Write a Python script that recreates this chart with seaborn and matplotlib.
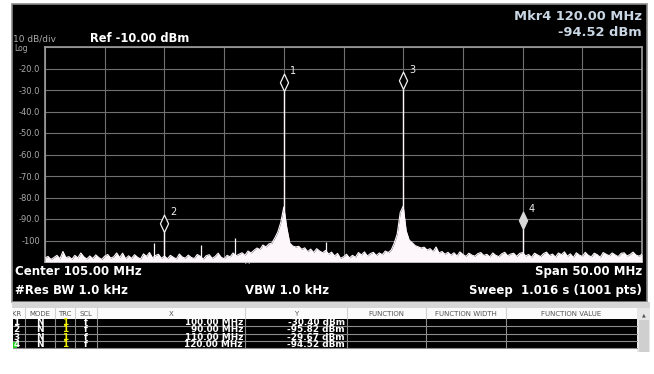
import numpy as np
import pandas as pd
import matplotlib
matplotlib.use("Agg")
import matplotlib.pyplot as plt
from matplotlib.path import Path
from matplotlib.patches import Rectangle
from matplotlib.font_manager import FontProperties
import seaborn as sns

# ---- sweep settings -------------------------------------------------------
center_mhz = 105.0
span_mhz = 50.0
ref_dbm = -10.0
db_per_div = 10.0
freq_start_mhz = 80.0
freq_step_mhz = 0.25

# trace level (dBm) every 0.25 MHz from 80 to 130 MHz
trace_dbm = [
    -108.2, -107.4, -108.8, -107.9, -106.9, -108.5, -105.1, -108.0,
    -107.5, -108.7, -106.9, -108.1, -105.8, -107.6, -108.6, -107.2,
    -108.4, -106.7, -107.9, -108.8, -107.3, -106.5, -108.2, -107.6,
    -105.8, -107.9, -105.9, -108.5, -107.1, -108.3, -106.6, -107.8,
    -108.6, -106.2, -107.4, -105.6, -108.1, -107.0, -106.4, -108.3,
    -107.2, -108.5, -106.9, -107.8, -108.6, -106.3, -107.7, -108.2,
    -106.8, -107.9, -108.4, -106.5, -107.3, -108.7, -107.1, -106.6,
    -108.3, -107.4, -105.9, -107.8, -108.5, -106.9, -107.6, -105.8,
    -107.1, -106.4, -105.7, -106.9, -104.9, -105.8, -104.6, -103.5,
    -104.2, -102.1, -103.0, -101.6, -101.2, -98.8, -96.0, -91.5,
    -84.4, -94.0, -101.2, -102.6, -103.0, -102.7, -104.1, -103.4,
    -105.2, -104.0, -105.6, -103.8, -104.9, -105.7, -104.6, -106.3,
    -105.4, -107.2, -106.0, -108.3, -107.6, -106.4, -108.1, -106.9,
    -107.8, -105.6, -106.7, -105.3, -107.2, -106.1, -105.5, -107.0,
    -105.8, -106.6, -104.9, -105.6, -104.4, -101.2, -96.9, -87.0,
    -84.0, -95.5, -99.8, -101.0, -102.4, -102.9, -103.5, -103.1,
    -104.4, -103.8, -105.2, -103.0, -105.8, -105.1, -106.4, -105.5,
    -106.8, -105.7, -107.2, -105.3, -106.5, -107.4, -105.9, -106.8,
    -107.3, -106.1, -105.6, -107.0, -106.4, -107.6, -105.8, -106.9,
    -107.5, -106.2, -105.5, -107.1, -106.3, -105.9, -107.4, -106.0,
    -105.6, -107.2, -106.5, -107.8, -105.9, -106.7, -107.5, -106.1,
    -105.4, -107.0, -106.3, -107.7, -105.8, -106.6, -105.3, -107.3,
    -106.2, -107.9, -105.7, -106.8, -107.4, -105.5, -106.9, -107.6,
    -105.9, -106.6, -107.8, -105.6, -106.4, -107.1, -105.8, -106.7,
    -107.5, -106.0, -105.7, -107.2, -106.5, -105.4, -106.8, -107.3,
    -106.4,
]

# narrow spurs riding on the noise floor
spur_mhz = [89.13, 93.06, 95.90, 103.52]
spur_dbm = [-101.0, -102.0, -98.8, -100.7]

# markers
marker_ids = [1, 2, 3, 4]
marker_mhz = [100.00, 90.00, 110.00, 120.00]
marker_dbm = [-30.40, -95.82, -29.67, -94.52]
marker_mode = ["N", "N", "N", "N"]
marker_trc = ["1", "1", "1", "1"]
marker_scl = ["f", "f", "f", "f"]
active_marker = 4

y_tick_values = [-20, -30, -40, -50, -60, -70, -80, -90, -100]
y_tick_labels = ["-20.0", "-30.0", "-40.0", "-50.0", "-60.0",
                 "-70.0", "-80.0", "-90.0", "-100"]

table_headers = ["MODE", "TRC", "SCL", "X", "Y",
                 "FUNCTION", "FUNCTION WIDTH", "FUNCTION VALUE"]

# ---- derived data -----------------------------------------------------------
freq_mhz = freq_start_mhz + freq_step_mhz * np.arange(len(trace_dbm))
f_lo = center_mhz - span_mhz / 2
f_hi = center_mhz + span_mhz / 2
y_bottom = ref_dbm - 10 * db_per_div
trace = pd.DataFrame({"freq": freq_mhz, "level": trace_dbm})

# ---- styling ------------------------------------------------------------------
sns.set_theme(style="dark", rc={
    "axes.facecolor": "black",
    "figure.facecolor": "white",
    "grid.color": "#6f6f6f",
    "grid.linewidth": 0.8,
})
plt.rcParams["font.family"] = ["DejaVu Sans"]

W, H = 654, 374
fig = plt.figure(figsize=(W / 100, H / 100), dpi=100, facecolor="white")


def fx(x):
    return x / W


def fy(y):
    return 1 - y / H


def frect(x0, y0, x1, y1, zorder=-2, **kw):
    r = Rectangle((fx(x0), fy(y1)), fx(x1) - fx(x0), fy(y0) - fy(y1),
                  transform=fig.transFigure, zorder=zorder, **kw)
    fig.patches.append(r)
    return r


def fline(x0, y0, x1, y1, **kw):
    fig.add_artist(plt.Line2D([fx(x0), fx(x1)], [fy(y0), fy(y1)],
                              transform=fig.transFigure, zorder=-1, **kw))


# instrument screen
frect(12, 4, 647, 302, facecolor="black", edgecolor="#8a8a8a", lw=1.2,
      zorder=-5)

# ---- spectrum axes ---------------------------------------------------------
ax = fig.add_axes([fx(45), fy(262), fx(642) - fx(45), fy(47) - fy(262)])
ax.set_facecolor("black")
ax.set_xlim(f_lo, f_hi)
ax.set_ylim(y_bottom, ref_dbm)
ax.set_xticks(np.linspace(f_lo, f_hi, 11))
ax.set_yticks([ref_dbm] + y_tick_values + [y_bottom])
ax.set_yticklabels([""] + y_tick_labels + [""])
ax.set_xticklabels([])
ax.tick_params(axis="both", length=0)
ax.tick_params(axis="y", pad=3.5, labelsize=6, labelcolor="#a9a9a9")
ax.grid(True, color="#707070", lw=0.8)
for s in ax.spines.values():
    s.set_color("#9c9c9c")
    s.set_linewidth(1.2)

trace_color = "#fdf6fb"
ax.fill_between(trace["freq"], trace["level"], y_bottom,
                color=trace_color, lw=0, zorder=3)
sns.lineplot(data=trace, x="freq", y="level", ax=ax, color=trace_color,
             lw=0.8, zorder=4)
ax.set_xlabel("")
ax.set_ylabel("")
ax.vlines(spur_mhz, y_bottom, spur_dbm, color=trace_color, lw=0.9, zorder=4)
ax.vlines(marker_mhz, y_bottom, marker_dbm, color=trace_color, lw=1.0,
          zorder=4)

# diamond marker whose lower tip sits on the data point
diamond = Path([(0, 0), (0.47, 1), (0, 2), (-0.47, 1), (0, 0)],
               [Path.MOVETO, Path.LINETO, Path.LINETO, Path.LINETO,
                Path.CLOSEPOLY])
for mid, mf, md in zip(marker_ids, marker_mhz, marker_dbm):
    active = mid == active_marker
    ax.plot([mf], [md], marker=diamond, ms=25,
            mfc="#d8d8d8" if active else "black",
            mec="#d8d8d8" if active else "#f2f2f2",
            mew=0.9, ls="none", zorder=6, clip_on=False)
    ax.annotate(str(mid), (mf, md), xytext=(4.5, 10.5),
                textcoords="offset points", color="#f0f0f0", fontsize=7,
                ha="left", va="bottom", zorder=7)

# ---- screen annotations -----------------------------------------------------
grey = "#a9a9a9"
fig.text(fx(13), fy(41.2), "10 dB/div", color=grey, fontsize=6.5,
         va="baseline")
fig.text(fx(14), fy(51), "Log", color=grey, fontsize=5.5, va="baseline")
fig.text(fx(90), fy(42), f"Ref {ref_dbm:.2f} dBm", color="white",
         fontsize=8.3, fontweight="bold", va="baseline")
mk = marker_ids.index(active_marker)
fig.text(fx(642), fy(19.5), f"Mkr{active_marker} {marker_mhz[mk]:.2f} MHz",
         color="#c9d6e4", fontsize=9.4, fontweight="bold", ha="right",
         va="baseline")
fig.text(fx(642), fy(36.5), f"{marker_dbm[mk]:.2f} dBm", color="#c9d6e4",
         fontsize=9.4, fontweight="bold", ha="right", va="baseline")

fig.text(fx(247), fy(266), "^", color="#d0d0d0", fontsize=6, ha="center",
         va="center")

bold_white = dict(color="white", fontsize=8.5, fontweight="bold",
                  va="baseline")
fig.text(fx(15), fy(275), f"Center {center_mhz:.2f} MHz", **bold_white)
fig.text(fx(642), fy(275), f"Span {span_mhz:.2f} MHz", ha="right",
         **bold_white)
fig.text(fx(15), fy(294), "#Res BW 1.0 kHz", **bold_white)
fig.text(fx(245), fy(294), "VBW 1.0 kHz", **bold_white)
fig.text(fx(642), fy(294), "Sweep  1.016 s (1001 pts)", ha="right",
         **bold_white)

# ---- marker table -------------------------------------------------------------
frect(12, 302, 650, 308, facecolor="#d6d6d6", lw=0)
frect(13, 308, 637, 319, facecolor="#fbfbfb", lw=0)
row_h = 7.3
row_edges = [319 + row_h * i for i in range(len(marker_ids) + 1)]
frect(13, row_edges[0], 637, row_edges[-1], facecolor="black", lw=0)
col_edges = [13, 25, 55, 75, 97, 245, 347, 426, 506, 637]
for xe in col_edges[1:-1]:
    fline(xe, 308, xe, 319, color="#d0d0d0", lw=0.8)
    fline(xe, row_edges[0], xe, row_edges[-1], color="#8c8c8c", lw=0.8)
for ye in row_edges[1:]:
    fline(13, ye, 637, ye, color="#8c8c8c", lw=0.8)

hdr = fig.text(fx(22), fy(316.3), "MKR", color="#555555", fontsize=5,
               ha="right", va="baseline")
hdr.set_clip_path(Rectangle((fx(13), fy(319)), fx(25) - fx(13),
                            fy(308) - fy(319), transform=fig.transFigure))
for i, name in enumerate(table_headers):
    xc = (col_edges[i + 1] + col_edges[i + 2]) / 2
    fig.text(fx(xc), fy(316.3), name, color="#555555", fontsize=5,
             ha="center", va="baseline")

# scroll bar
frect(637, 308, 650, 352, facecolor="#e6e6e6", lw=0)
frect(639, 320, 649, 352, facecolor="#cfcfcf", lw=0)
fig.text(fx(643.5), fy(316), "\u25b2", color="#555555", fontsize=3.5,
         ha="center", va="baseline")

# active-marker flag in the first column
ai = marker_ids.index(active_marker)
frect(13, row_edges[ai] + 0.5, 17, row_edges[ai + 1] - 0.5,
      facecolor="#1fd11f", lw=0)

# each column is one multi-line text; matplotlib puts (ascent * linespacing
# + descent) between baselines, so pick linespacing for one row per line
cell_size = 6.4
renderer = fig.canvas.get_renderer()
_, lp_h, lp_d = renderer.get_text_width_height_descent(
    "lp", FontProperties(family="DejaVu Sans", size=cell_size,
                         weight="bold"), ismath=False)
line_sp = (row_h - lp_d) / (lp_h - lp_d)
first_base = row_edges[1] - 1.1
text_top = first_base - (lp_h - lp_d)
columns = [
    (13.5, "left", "white", [str(m) for m in marker_ids]),
    (40, "center", "white", marker_mode),
    (65, "center", "#f2f200", marker_trc),
    (86, "center", "white", marker_scl),
    (243, "right", "white", [f"{v:.2f} MHz" for v in marker_mhz]),
    (345, "right", "white", [f"{v:.2f} dBm" for v in marker_dbm]),
]
for xpos, ha, color, vals in columns:
    fig.text(fx(xpos), fy(text_top), "\n".join(vals), color=color,
             fontsize=cell_size, fontweight="bold", ha=ha, va="top",
             multialignment=ha, linespacing=line_sp)

fig.savefig("out.png", dpi=100, facecolor="white")
